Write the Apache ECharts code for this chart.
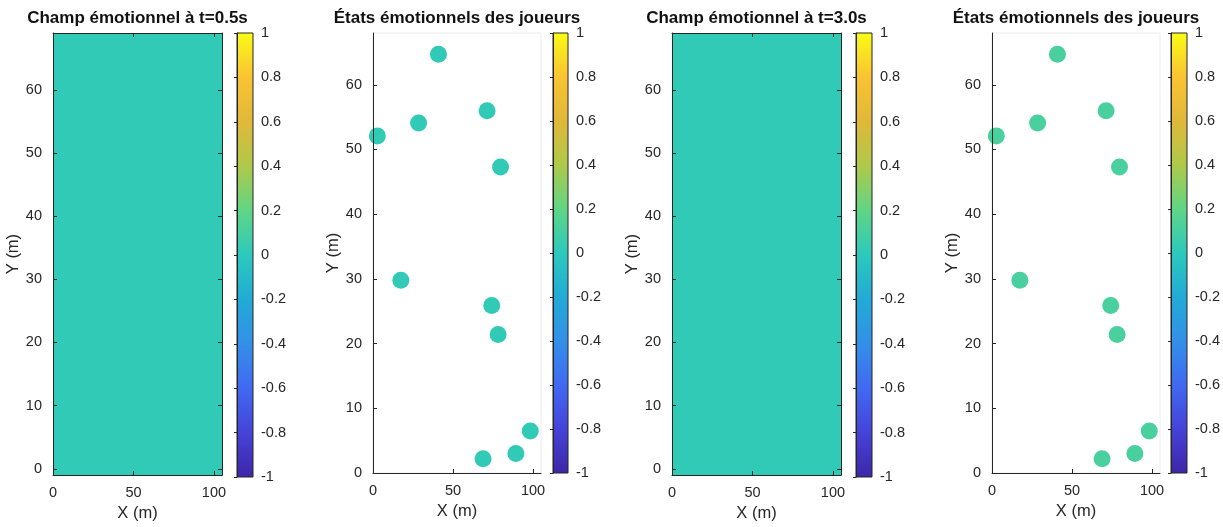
<!DOCTYPE html>
<html>
<head>
<meta charset="utf-8">
<script src="https://cdn.jsdelivr.net/npm/echarts@6/dist/echarts.min.js"></script>
<style>html,body{margin:0;padding:0;background:#fff}#c{width:1223px;height:527px}</style>
</head>
<body>
<div id="c"></div>
<script>
// ---- data ----
const titles = ['Champ émotionnel à t=0.5s', 'États émotionnels des joueurs', 'Champ émotionnel à t=3.0s', 'États émotionnels des joueurs'];
const xTicks = [0, 50, 100];
const yTicks = [0, 10, 20, 30, 40, 50, 60];
const colorbarTicks = [-1, -0.8, -0.6, -0.4, -0.2, 0, 0.2, 0.4, 0.6, 0.8, 1];
const stopValues = [-1, -0.8, -0.6, -0.4, -0.2, 0, 0.2, 0.4, 0.6, 0.8, 1];
const stopColors = ['#3e26a8', '#4543d8', '#4169f2', '#3390e8', '#22aad6', '#2cc9bd', '#60d585', '#aec94a', '#e0b83a', '#fac332', '#f9fb15'];
const fieldXEdges = [0, 105];
const fieldYEdges = [-1, 69];
const field05 = [[0.02]];
const field30 = [[0.02]];
const playerX = [40.9, 71.3, 28.5, 2.7, 79.7, 17.4, 74.2, 78.2, 98.3, 89.3, 68.8];
const playerY = [64.7, 56.0, 54.1, 52.1, 47.3, 29.8, 25.9, 21.4, 6.5, 3.0, 2.2];
const emotion05 = [0.02, 0.02, 0.02, 0.02, 0.02, 0.02, 0.02, 0.02, 0.02, 0.02, 0.02];
const emotion30 = [0.11, 0.11, 0.11, 0.11, 0.11, 0.11, 0.11, 0.11, 0.11, 0.11, 0.11];

// ---- helpers ----
function hexToRgb(h){return [parseInt(h.slice(1,3),16),parseInt(h.slice(3,5),16),parseInt(h.slice(5,7),16)];}
function colorFor(v){
  if (v <= stopValues[0]) return stopColors[0];
  for (let i = 1; i < stopValues.length; i++) {
    if (v <= stopValues[i]) {
      const t = (v - stopValues[i-1]) / (stopValues[i] - stopValues[i-1]);
      const a = hexToRgb(stopColors[i-1]), b = hexToRgb(stopColors[i]);
      const c = a.map((x, k) => Math.round(x + (b[k] - x) * t));
      return 'rgb(' + c.join(',') + ')';
    }
  }
  return stopColors[stopColors.length - 1];
}
function fieldCells(field){
  const out = [];
  for (let j = 0; j < field.length; j++)
    for (let i = 0; i < field[j].length; i++)
      out.push([fieldXEdges[i], fieldXEdges[i+1], fieldYEdges[j], fieldYEdges[j+1], field[j][i]]);
  return out;
}
function players(vals){ return playerX.map((x, i) => [x, playerY[i], vals[i]]); }

const INK = '#262626';
const FONT = 'Liberation Sans, Arial, sans-serif';
const chart = echarts.init(document.getElementById('c'), null, {renderer: 'canvas'});

// layout
const panels = [
  {type: 'field', left: 53, width: 169, height: 444, ymin: -1, ymax: 69, cbLeft: 237, cbWidth: 16, data: fieldCells(field05)},
  {type: 'scatter', left: 373, width: 168, height: 440, ymin: 0, ymax: 68, cbLeft: 553, cbWidth: 15, data: players(emotion05)},
  {type: 'field', left: 672, width: 169, height: 444, ymin: -1, ymax: 69, cbLeft: 856, cbWidth: 16, data: fieldCells(field30)},
  {type: 'scatter', left: 992, width: 168, height: 440, ymin: 0, ymax: 68, cbLeft: 1171, cbWidth: 16, data: players(emotion30)}
];
const TOP = 33;

const grid = [], xAxis = [], yAxis = [], series = [], title = [];
const labelStyle = {color: INK, fontSize: 14.5, fontFamily: FONT};
const nameStyle = {color: INK, fontSize: 16.5, fontFamily: FONT};
const lineStyle = {lineStyle: {color: INK, width: 1}};

panels.forEach((p, k) => {
  const gi = grid.length;
  const box = p.type === 'field';
  grid.push({left: p.left, top: TOP, width: p.width, height: p.height, containLabel: false,
    show: !box, borderColor: '#ececec', borderWidth: 1, backgroundColor: 'transparent'});
  title.push({text: titles[k], left: p.left + p.width / 2, top: 10, textAlign: 'center', padding: 0,
    textStyle: {fontFamily: FONT, fontSize: 17, fontWeight: 'bold', color: '#111'}});
  xAxis.push({gridIndex: gi, type: 'value', min: 0, max: 105, position: 'bottom', z: 10,
    axisLine: {show: true, onZero: false, ...lineStyle},
    axisTick: {show: true, inside: true, length: 4, customValues: xTicks, lineStyle: {color: INK}},
    axisLabel: {...labelStyle, margin: 10, customValues: xTicks},
    splitLine: {show: false},
    name: 'X (m)', nameLocation: 'middle', nameGap: 29, nameTextStyle: nameStyle});
  const xi = xAxis.length - 1;
  yAxis.push({gridIndex: gi, type: 'value', min: p.ymin, max: p.ymax, position: 'left', z: 10,
    axisLine: {show: true, onZero: false, ...lineStyle},
    axisTick: {show: true, inside: true, length: 4, customValues: yTicks, lineStyle: {color: INK}},
    axisLabel: {...labelStyle, margin: 11, customValues: yTicks},
    splitLine: {show: false},
    name: 'Y (m)', nameLocation: 'middle', nameGap: 29, nameTextStyle: nameStyle});
  const yi = yAxis.length - 1;
  if (box) {
    xAxis.push({gridIndex: gi, type: 'value', min: 0, max: 105, position: 'top', z: 10,
      axisLine: {show: true, onZero: false, ...lineStyle},
      axisTick: {show: true, inside: true, length: 4, customValues: xTicks, lineStyle: {color: INK}},
      axisLabel: {show: false}, splitLine: {show: false}});
    yAxis.push({gridIndex: gi, type: 'value', min: p.ymin, max: p.ymax, position: 'right', z: 10,
      axisLine: {show: true, onZero: false, ...lineStyle},
      axisTick: {show: true, inside: true, length: 4, customValues: yTicks, lineStyle: {color: INK}},
      axisLabel: {show: false}, splitLine: {show: false}});
    series.push({type: 'custom', xAxisIndex: xi, yAxisIndex: yi, data: p.data, z: -1,
      renderItem: function (params, api) {
        const a = api.coord([api.value(0), api.value(3)]);
        const b = api.coord([api.value(1), api.value(2)]);
        return {type: 'rect', shape: {x: a[0], y: a[1], width: b[0] - a[0], height: b[1] - a[1]},
          style: {fill: colorFor(api.value(4))}};
      }});
  } else {
    series.push({type: 'scatter', xAxisIndex: xi, yAxisIndex: yi, data: p.data, symbolSize: 17,
      itemStyle: {color: params => colorFor(params.value[2]), opacity: 1}});
  }
  // colorbar
  const cg = grid.length;
  grid.push({left: p.cbLeft, top: TOP, width: p.cbWidth, height: p.height, show: true, borderColor: INK, borderWidth: 1, backgroundColor: 'transparent', z: 10});
  xAxis.push({gridIndex: cg, type: 'value', min: 0, max: 1, show: false});
  yAxis.push({gridIndex: cg, type: 'value', min: -1, max: 1, interval: 0.2, position: 'right', z: 10,
    axisLine: {show: true, ...lineStyle},
    axisTick: {show: true, inside: true, length: 3, lineStyle: {color: INK}},
    axisLabel: {...labelStyle, margin: 8, formatter: v => String(Math.round(v * 10) / 10), customValues: colorbarTicks},
    splitLine: {show: false}});
  series.push({type: 'custom', xAxisIndex: xAxis.length - 1, yAxisIndex: yAxis.length - 1, data: [[stopValues[0], stopValues[stopValues.length - 1]]], z: -1,
    renderItem: function (params, api) {
      const a = api.coord([0, api.value(1)]);
      const b = api.coord([1, api.value(0)]);
      const stops = stopValues.map((v, i) => ({offset: (v - stopValues[0]) / (stopValues[stopValues.length - 1] - stopValues[0]), color: stopColors[i]}));
      return {type: 'rect', shape: {x: a[0], y: a[1], width: b[0] - a[0], height: b[1] - a[1]},
        style: {fill: new echarts.graphic.LinearGradient(0, 1, 0, 0, stops)}};
    }});
});

chart.setOption({animation: false, backgroundColor: '#fff', title, grid, xAxis, yAxis, series});
</script>
</body>
</html>
